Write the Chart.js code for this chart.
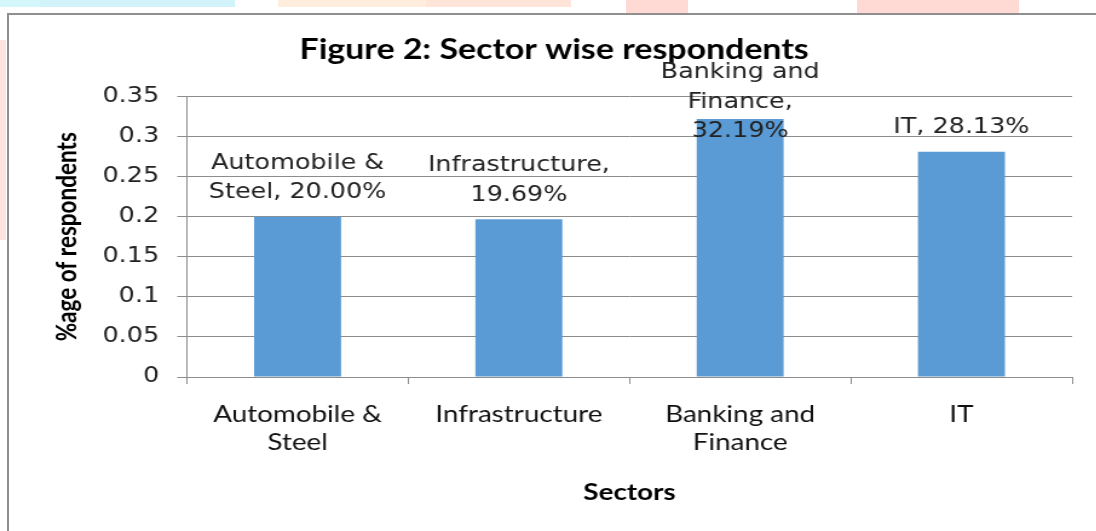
<!DOCTYPE html>
<html>
<head>
<meta charset="utf-8">
<script src="https://cdn.jsdelivr.net/npm/chart.js@4.4.1/dist/chart.umd.min.js"></script>
<style>
  html, body { margin: 0; padding: 0; background: #ffffff; overflow: hidden; }
  #wrap { position: relative; width: 1096px; height: 531px; overflow: hidden; }
  .wm { position: absolute; }
  #frame { position: absolute; left: 7px; top: 13px; width: 1100px; height: 530px;
           border-left: 2px solid #8f8f8f; border-top: 2px solid #8f8f8f; box-sizing: border-box; }
  #c { position: absolute; left: 0; top: 0; transform: scaleX(1.21); transform-origin: 0 0; }
</style>
</head>
<body>
<div id="wrap">
  <div class="wm" style="left:0;top:0;width:40px;height:7px;background:#d3f7fb"></div>
  <div class="wm" style="left:40px;top:0;width:195px;height:7px;background:#d3f3fa"></div>
  <div class="wm" style="left:278px;top:0;width:148px;height:7px;background:#ffeedd"></div>
  <div class="wm" style="left:426px;top:0;width:145px;height:7px;background:#ffe4d9"></div>
  <div class="wm" style="left:626px;top:0;width:62px;height:13px;background:#ffdad4"></div>
  <div class="wm" style="left:857px;top:0;width:162px;height:13px;background:#ffdad4"></div>
  <div class="wm" style="left:0;top:40px;width:6px;height:200px;background:#ffe3e0"></div>
  <div id="frame"></div>
  <canvas id="c" width="906" height="531"></canvas>
</div>
<script>
const chartTitle = 'Figure 2: Sector wise respondents';
const xAxisTitle = 'Sectors';
const yAxisTitle = '%age of respondents';
const categories = [['Automobile &', 'Steel'], 'Infrastructure', ['Banking and', 'Finance'], 'IT'];
const respondentShare = [0.2000, 0.1969, 0.3219, 0.2813];
const dataLabels = [
  ['Automobile &', 'Steel, 20.00%'],
  ['Infrastructure,', '19.69%'],
  ['Banking and', 'Finance,', '32.19%'],
  ['IT, 28.13%']
];
const yTickLabels = ['0', '0.05', '0.1', '0.15', '0.2', '0.25', '0.3', '0.35'];

const calibriLike = 'Lato, "Open Sans", sans-serif';
const verdanaLike = '"DejaVu Sans", Verdana, sans-serif';

const labelPlugin = {
  id: 'barLabels',
  afterDatasetsDraw(chart) {
    const ctx = chart.ctx;
    const meta = chart.getDatasetMeta(0);
    const lh = 29.5;
    const minTop = 58;
    ctx.save();
    ctx.font = '21px ' + verdanaLike;
    ctx.fillStyle = '#222222';
    ctx.textAlign = 'center';
    ctx.textBaseline = 'middle';
    meta.data.forEach((bar, i) => {
      const lines = dataLabels[i];
      const n = lines.length;
      let lastCenter = bar.y - 24;
      const top = lastCenter - (n - 1) * lh - lh / 2;
      if (top < minTop) { lastCenter += (minTop - top); }
      lines.forEach((t, k) => {
        ctx.fillText(t, bar.x, lastCenter - (n - 1 - k) * lh);
      });
    });
    ctx.restore();
  }
};

new Chart(document.getElementById('c'), {
  type: 'bar',
  data: {
    labels: categories,
    datasets: [{
      label: '%age of respondents',
      data: respondentShare,
      backgroundColor: '#5b9bd5',
      borderWidth: 0,
      barPercentage: 0.393,
      categoryPercentage: 1.0
    }]
  },
  options: {
    responsive: false,
    animation: false,
    devicePixelRatio: 1,
    layout: { padding: { left: 30, right: 20, top: 0, bottom: 0 } },
    plugins: {
      legend: { display: false },
      tooltip: { enabled: false },
      title: {
        display: true,
        text: chartTitle,
        color: '#000000',
        font: { family: calibriLike, size: 28, weight: 'bold', lineHeight: 1.2 },
        padding: { top: 33, bottom: 30 }
      }
    },
    scales: {
      x: {
        grid: { display: true, drawOnChartArea: false, color: '#8c8c8c', tickLength: 7, offset: true },
        border: { display: true, color: '#8c8c8c', width: 1 },
        ticks: {
          color: '#111111',
          font: { family: calibriLike, size: 23, lineHeight: 1.217 },
          padding: 17,
          maxRotation: 0,
          autoSkip: false
        },
        title: {
          display: true,
          text: xAxisTitle,
          color: '#000000',
          font: { family: calibriLike, size: 23, weight: 'bold', lineHeight: 1.2 },
          padding: { top: 4, bottom: 25 }
        },
        afterFit(scale) { scale.height = 154; }
      },
      y: {
        min: 0,
        max: 0.35,
        grid: { display: true, color: '#8c8c8c', lineWidth: 1, tickLength: 8, drawTicks: true },
        border: { display: true, color: '#8c8c8c', width: 1 },
        ticks: {
          stepSize: 0.05,
          color: '#222222',
          font: { family: verdanaLike, size: 21 },
          padding: 15,
          callback: (v, i) => yTickLabels[i]
        },
        title: {
          display: true,
          text: yAxisTitle,
          color: '#000000',
          font: { family: calibriLike, size: 22.5, weight: 'bold', lineHeight: 1.2 },
          padding: { top: 12, bottom: 4 }
        },
        afterFit(scale) { scale.width = 124.5; }
      }
    }
  },
  plugins: [labelPlugin]
});
</script>
</body>
</html>
